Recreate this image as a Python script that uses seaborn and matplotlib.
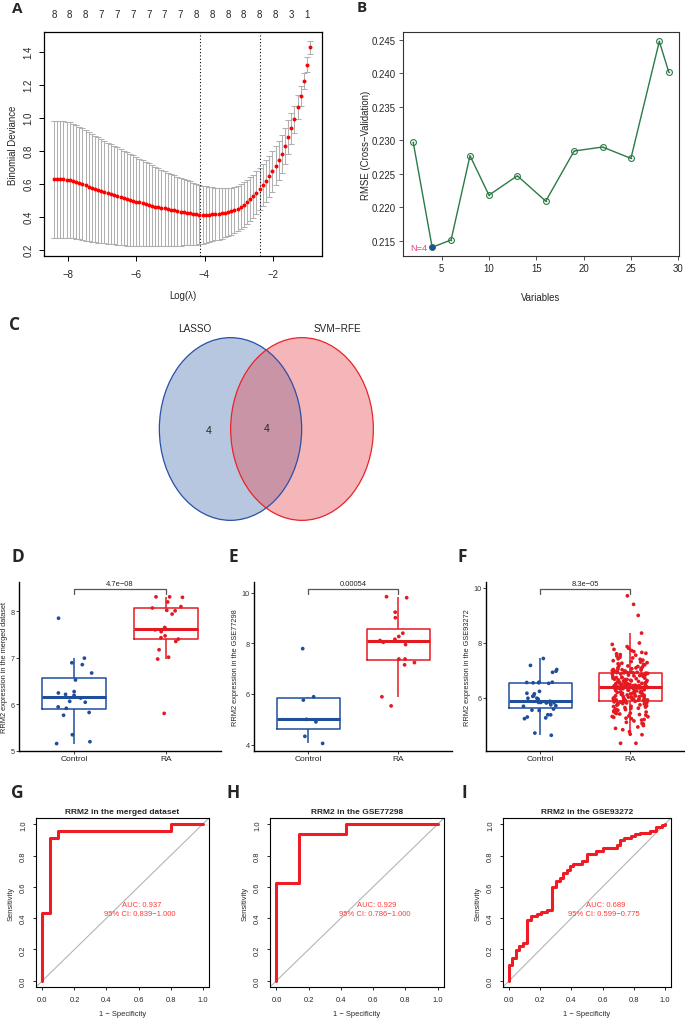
import numpy as np
import pandas as pd
import matplotlib
matplotlib.use('Agg')
import matplotlib.pyplot as plt
from matplotlib.patches import Ellipse
import seaborn as sns

# ---------------- A: LASSO cross validation ----------------
log_lambda = [-8.41, -8.32, -8.22, -8.13, -8.04, -7.95, -7.85, -7.76, -7.67, -7.58,
              -7.48, -7.39, -7.30, -7.20, -7.11, -7.02, -6.93, -6.83, -6.74, -6.65,
              -6.56, -6.46, -6.37, -6.28, -6.19, -6.09, -6.00, -5.91, -5.81, -5.72,
              -5.63, -5.54, -5.44, -5.35, -5.26, -5.17, -5.07, -4.98, -4.89, -4.80,
              -4.70, -4.61, -4.52, -4.42, -4.33, -4.24, -4.15, -4.05, -3.96, -3.87,
              -3.78, -3.68, -3.59, -3.50, -3.40, -3.31, -3.22, -3.13, -3.03, -2.94,
              -2.85, -2.76, -2.66, -2.57, -2.48, -2.39, -2.29, -2.20, -2.11, -2.01,
              -1.92, -1.83, -1.74, -1.64, -1.55, -1.46, -1.37, -1.27, -1.18, -1.09,
              -1.00, -0.90]
cv_mean = [0.628, 0.628, 0.628, 0.627, 0.625, 0.622, 0.617, 0.611, 0.604, 0.597,
           0.590, 0.583, 0.576, 0.569, 0.562, 0.556, 0.549, 0.543, 0.537, 0.531,
           0.525, 0.519, 0.513, 0.507, 0.502, 0.497, 0.492, 0.487, 0.482, 0.477,
           0.472, 0.467, 0.462, 0.458, 0.454, 0.450, 0.446, 0.442, 0.438, 0.434,
           0.430, 0.427, 0.424, 0.421, 0.418, 0.415, 0.413, 0.412, 0.412, 0.413,
           0.414, 0.416, 0.418, 0.421, 0.425, 0.428, 0.433, 0.440, 0.449, 0.460,
           0.474, 0.490, 0.507, 0.523, 0.545, 0.568, 0.592, 0.616, 0.644, 0.675,
           0.710, 0.742, 0.780, 0.830, 0.882, 0.935, 0.990, 1.065, 1.130, 1.222,
           1.322, 1.428]
cv_sd = [0.355, 0.355, 0.355, 0.354, 0.352, 0.350, 0.347, 0.344, 0.341, 0.338,
         0.335, 0.331, 0.327, 0.323, 0.319, 0.315, 0.311, 0.307, 0.303, 0.299,
         0.295, 0.291, 0.287, 0.283, 0.279, 0.275, 0.271, 0.266, 0.261, 0.256,
         0.251, 0.246, 0.241, 0.236, 0.231, 0.226, 0.221, 0.217, 0.213, 0.209,
         0.205, 0.201, 0.197, 0.193, 0.189, 0.185, 0.180, 0.176, 0.172, 0.168,
         0.164, 0.160, 0.156, 0.153, 0.150, 0.147, 0.144, 0.141, 0.138, 0.136,
         0.134, 0.133, 0.132, 0.131, 0.130, 0.130, 0.128, 0.126, 0.124, 0.122,
         0.120, 0.117, 0.113, 0.108, 0.102, 0.093, 0.083, 0.072, 0.060, 0.050,
         0.044, 0.040]
n_nonzero = ['8', '8', '8', '7', '7', '7', '7', '7', '7', '8', '8', '8', '8', '8', '8', '3', '1']
lambda_min = -4.14
lambda_1se = -2.38

# ---------------- B: SVM-RFE ----------------
rfe_vars = [2, 4, 6, 8, 10, 13, 16, 19, 22, 25, 28, 29]
rfe_rmse = [0.2297, 0.2140, 0.2151, 0.2277, 0.2218, 0.2247, 0.2209, 0.2284,
            0.2290, 0.2273, 0.2448, 0.2402]
rfe_best = 4

# ---------------- C: Venn ----------------
venn_names = ['LASSO', 'SVM−RFE']
venn_counts = [4, 4]   # LASSO only, shared

# ---------------- D-F: RRM2 expression ----------------
groups = ['Control', 'RA']
merged_ctrl = [7.85, 6.99, 6.89, 6.85, 6.67, 6.52, 6.27, 6.24, 6.21, 6.19,
               6.13, 6.04, 6.06, 5.94, 5.91, 5.82, 5.76, 5.34, 5.19, 5.15]
merged_ra = [8.31, 8.30, 8.31, 8.20, 8.10, 8.07, 8.02, 8.01, 7.94, 7.65, 7.60,
             7.62, 7.56, 7.47, 7.43, 7.40, 7.35, 7.17, 7.01, 6.97, 5.80]
gse77298_ctrl = [7.79, 5.89, 5.76, 5.00, 4.90, 4.33, 4.05]
gse77298_ra = [9.84, 9.80, 9.23, 9.01, 8.40, 8.27, 8.16, 8.11, 8.04, 7.95,
               7.38, 7.38, 7.24, 7.15, 5.89, 5.53]
gse93272_ctrl = [7.43, 7.18, 7.03, 6.97, 6.93, 6.57, 6.57, 6.56, 6.55, 6.55,
                 6.53, 6.24, 6.17, 6.15, 6.08, 6.06, 5.99, 5.99, 5.96, 5.88,
                 5.86, 5.84, 5.84, 5.83, 5.83, 5.82, 5.75, 5.72, 5.70, 5.60,
                 5.56, 5.55, 5.39, 5.39, 5.31, 5.28, 5.25, 4.73, 4.65]
gse93272_ra = [9.70, 9.39, 8.99, 8.35, 7.99, 7.94, 7.86, 7.80, 7.76, 7.72,
               7.68, 7.65, 7.62, 7.60, 7.57, 7.55, 7.52, 7.48, 7.45, 7.42,
               7.40, 7.37, 7.35, 7.32, 7.30, 7.28, 7.26, 7.24, 7.22, 7.20,
               7.18, 7.16, 7.14, 7.12, 7.10, 7.09, 7.07, 7.06, 7.05, 7.03,
               7.02, 7.01, 7.00, 6.99, 6.98, 6.97, 6.96, 6.95, 6.94, 6.93,
               6.92, 6.92, 6.91, 6.91, 6.90,
               6.89, 6.87, 6.86, 6.86, 6.84, 6.83, 6.81, 6.80, 6.80, 6.78,
               6.77, 6.75, 6.74, 6.74, 6.72, 6.71, 6.70, 6.68, 6.67, 6.67,
               6.65, 6.64, 6.62, 6.61, 6.60, 6.59, 6.58, 6.57, 6.56, 6.55,
               6.54, 6.53, 6.52, 6.51, 6.50, 6.49, 6.49, 6.48, 6.47, 6.46,
               6.46, 6.45, 6.44, 6.44, 6.43, 6.43, 6.42, 6.42, 6.42, 6.41,
               6.41, 6.41, 6.63, 6.58, 6.52,
               6.40, 6.39, 6.38, 6.38, 6.37, 6.36, 6.35, 6.34, 6.33, 6.33,
               6.31, 6.30, 6.29, 6.28, 6.27, 6.26, 6.25, 6.24, 6.22, 6.21,
               6.20, 6.19, 6.18, 6.17, 6.15, 6.14, 6.13, 6.12, 6.11, 6.10,
               6.09, 6.08, 6.07, 6.06, 6.05, 6.04, 6.03, 6.02, 6.01, 6.00,
               5.99, 5.98, 5.97, 5.96, 5.95, 5.95, 5.94, 5.93, 5.93, 5.92,
               5.92, 5.91, 5.91, 5.91, 5.90,
               5.89, 5.88, 5.87, 5.86, 5.85, 5.84, 5.82, 5.81, 5.80, 5.78,
               5.77, 5.75, 5.74, 5.72, 5.70, 5.69, 5.67, 5.65, 5.63, 5.62,
               5.60, 5.58, 5.56, 5.55, 5.53, 5.51, 5.49, 5.47, 5.45, 5.44,
               5.42, 5.40, 5.38, 5.35, 5.33, 5.32, 5.30, 5.27, 5.25, 5.22,
               5.20, 5.17, 5.12, 5.08, 5.06, 5.00, 4.95, 4.90, 4.85, 4.78,
               4.69, 4.67, 4.36, 4.36, 5.58]
p_values = ['4.7e−08', '0.00054', '8.3e−05']

# ---------------- G-I: ROC (x where sensitivity jumps, level after jump) ----------------
roc_merged_fpr = [0.0, 0.05, 0.10, 0.80]
roc_merged_tpr = [0.435, 0.913, 0.957, 1.0]
roc_77298_fpr = [0.0, 0.143, 0.429]
roc_77298_tpr = [0.625, 0.9375, 1.0]
roc_93272_fpr = [0.0, 0.019, 0.041, 0.064, 0.090, 0.116, 0.139, 0.180, 0.203, 0.240,
                 0.272, 0.300, 0.325, 0.347, 0.373, 0.392, 0.413, 0.465, 0.503, 0.561,
                 0.602, 0.690, 0.715, 0.741, 0.786, 0.809, 0.839, 0.904, 0.946, 0.979, 1.0]
roc_93272_tpr = [0.100, 0.143, 0.197, 0.224, 0.241, 0.391, 0.415, 0.425, 0.438, 0.449,
                 0.598, 0.639, 0.656, 0.688, 0.707, 0.733, 0.744, 0.767, 0.812, 0.829,
                 0.846, 0.870, 0.900, 0.910, 0.923, 0.940, 0.947, 0.955, 0.981, 0.994, 1.0]
roc_titles = ['RRM2 in the merged dataset', 'RRM2 in the GSE77298', 'RRM2 in the GSE93272']
roc_auc = ['AUC: 0.937', 'AUC: 0.929', 'AUC: 0.689']
roc_ci = ['95% CI: 0.839−1.000', '95% CI: 0.786−1.000', '95% CI: 0.599−0.775']

# ---------------- style ----------------
W, H = 685, 1020
BLUE = '#1F4E9D'
RED = '#E41A22'
GREEN = '#2B7A47'
palette = {'Control': BLUE, 'RA': RED}

sns.set_style('ticks')
plt.rcParams['font.family'] = ['Liberation Sans', 'DejaVu Sans']
plt.rcParams['axes.unicode_minus'] = True
np.random.seed(7)

fig = plt.figure(figsize=(W / 100, H / 100), dpi=100)


def add_ax(left, top, right, bottom):
    return fig.add_axes([left / W, 1 - bottom / H, (right - left) / W, (bottom - top) / H])


def letter(x, y, s, size=12.5):
    fig.text(x / W, 1 - y / H, s, fontsize=size, fontweight='bold',
             family='Open Sans', ha='center', va='center')


def r_box(ax, lw=0.9):
    for sp in ax.spines.values():
        sp.set_visible(True)
        sp.set_color('black')
        sp.set_linewidth(lw)


# ---------------- panel A ----------------
ax = add_ax(44, 33, 322, 257)
ax.errorbar(log_lambda, cv_mean, yerr=cv_sd, fmt='none', ecolor='#b0b0b0',
            elinewidth=0.75, capsize=1.9, capthick=0.75, zorder=1)
sns.scatterplot(x=log_lambda, y=cv_mean, color='#FF0000', s=8, linewidth=0, ax=ax, zorder=3)
ax.axvline(lambda_min, color='black', ls=(0, (1, 2)), lw=0.8)
ax.axvline(lambda_1se, color='black', ls=(0, (1, 2)), lw=0.8)
ax.set_xlim(-8.70, -0.56)
ax.set_ylim(0.162, 1.52)
ax.set_xticks([-8, -6, -4, -2])
ax.set_yticks([0.2, 0.4, 0.6, 0.8, 1.0, 1.2, 1.4])
ax.set_yticklabels(['0.2', '0.4', '0.6', '0.8', '1.0', '1.2', '1.4'], rotation=90, va='center')
ax.tick_params(labelsize=6.9, length=3.6, width=0.7, color='black', pad=4)
ax.tick_params(axis='x', pad=6)
ax.set_xlabel('Log(λ)', fontsize=6.9, labelpad=8)
ax.set_ylabel('Binomial Deviance', fontsize=6.9, labelpad=4)
r_box(ax)
for pos, lab in zip(log_lambda[::5], n_nonzero):
    ax.text(pos, 1 + 18 / 224, lab, transform=ax.get_xaxis_transform(),
            ha='center', va='center', fontsize=7)
letter(17, 9, 'A', 11)

# ---------------- panel B ----------------
ax = add_ax(403, 33, 679, 257)
sns.lineplot(x=rfe_vars, y=rfe_rmse, color=GREEN, linewidth=1.0, marker='o',
             markersize=4.2, markerfacecolor='none', markeredgecolor=GREEN,
             markeredgewidth=0.8, ax=ax)
sns.scatterplot(x=rfe_vars, y=rfe_rmse, color=GREEN, s=1.2, linewidth=0, ax=ax)
best_i = rfe_vars.index(rfe_best)
sns.scatterplot(x=[rfe_best], y=[rfe_rmse[best_i]], color=BLUE, s=16, linewidth=0, ax=ax, zorder=4)
ax.text(rfe_best - 0.55, rfe_rmse[best_i], f'N={rfe_best}', ha='right', va='center',
        fontsize=6.7, color='#E8457A')
ax.set_xlim(0.92, 30.08)
ax.set_ylim(0.2127, 0.2462)
ax.set_xticks([5, 10, 15, 20, 25, 30])
ax.set_yticks([0.215, 0.220, 0.225, 0.230, 0.235, 0.240, 0.245])
ax.set_yticklabels(['0.215', '0.220', '0.225', '0.230', '0.235', '0.240', '0.245'])
ax.tick_params(labelsize=6.9, length=3, width=0.6, color='#333333', pad=2)
ax.set_xlabel('Variables', fontsize=6.9, labelpad=14)
ax.set_ylabel('RMSE (Cross−Validation)', fontsize=6.9, labelpad=1)
r_box(ax, 0.8)
for sp in ax.spines.values():
    sp.set_color('#333333')
letter(362, 8, 'B', 11)

# ---------------- panel C ----------------
ax = fig.add_axes([0, 1 - 530 / H, 1, 230 / H])
ax.set_xlim(0, W)
ax.set_ylim(530, 300)
ax.axis('off')
ax.add_patch(Ellipse((230.5, 430), 142.3, 182.7, facecolor='#B8C7E0', edgecolor='none'))
ax.add_patch(Ellipse((302, 430), 142.7, 182.7, facecolor=(228 / 255, 73 / 255, 78 / 255),
                     alpha=0.4, edgecolor='none'))
ax.add_patch(Ellipse((230.5, 430), 142.3, 182.7, fill=False, edgecolor='#2A4FA8', lw=0.9))
ax.add_patch(Ellipse((302, 430), 142.7, 182.7, fill=False, edgecolor='#E8232A', lw=0.9))
ax.text(195, 329, venn_names[0], ha='center', va='center', fontsize=7.2)
ax.text(337, 329, venn_names[1], ha='center', va='center', fontsize=7.2)
ax.text(209, 431, str(venn_counts[0]), ha='center', va='center', fontsize=7.5)
ax.text(267, 429, str(venn_counts[1]), ha='center', va='center', fontsize=7.5)
letter(15, 325, 'C')


# ---------------- panels D-F ----------------
def expr_panel(rect, ctrl, ra, ylim, yticks, ylabel, pval, bracket_y, tip_y):
    ax = add_ax(*rect)
    df = pd.DataFrame({'group': ['Control'] * len(ctrl) + ['RA'] * len(ra),
                       'value': ctrl + ra})
    sns.boxplot(data=df, x='group', y='value', hue='group', order=groups, hue_order=groups,
                palette=palette, fill=False, width=0.7, showfliers=False, showcaps=False,
                linewidth=1.1, medianprops={'linewidth': 2.2}, legend=False, ax=ax)
    sns.stripplot(data=df, x='group', y='value', hue='group', order=groups, hue_order=groups,
                  palette=palette, jitter=0.2, size=2.7, linewidth=0, legend=False,
                  ax=ax, zorder=3)
    ax.plot([0, 0, 1, 1], [tip_y, bracket_y, bracket_y, tip_y], color='#555555', lw=0.9)
    ax.text(0.5, bracket_y + (ylim[1] - ylim[0]) * 0.012, pval, ha='center', va='bottom',
            fontsize=5.4, color='#222222')
    ax.set_xlim(-0.6, 1.6)
    ax.set_ylim(*ylim)
    ax.set_yticks(yticks)
    ax.set_yticklabels([str(t) for t in yticks])
    ax.set_xlabel('')
    ax.set_ylabel(ylabel, fontsize=5.3, labelpad=2)
    ax.tick_params(axis='y', labelsize=5.2, length=2, width=0.6, pad=1, labelcolor='#333333')
    ax.tick_params(axis='x', labelsize=6, length=2, width=0.6, pad=1, labelcolor='#222222')
    sns.despine(ax=ax)
    for sp in ('left', 'bottom'):
        ax.spines[sp].set_linewidth(1.0)
        ax.spines[sp].set_color('black')
    return ax


expr_panel((19, 583, 221, 752), merged_ctrl, merged_ra, (4.99, 8.63), [5, 6, 7, 8],
           'RRM2 expression in the merged dataset', p_values[0], 8.47, 8.37)
expr_panel((254, 583, 452, 752), gse77298_ctrl, gse77298_ra, (3.75, 10.42), [4, 6, 8, 10],
           'RRM2 expression in the GSE77298', p_values[1], 10.13, 9.96)
expr_panel((486, 583, 684, 752), gse93272_ctrl, gse93272_ra, (4.08, 10.2), [6, 8, 10],
           'RRM2 expression in the GSE93272', p_values[2], 9.94, 9.78)
letter(18, 557, 'D')
letter(233, 557, 'E')
letter(462, 557, 'F')


# ---------------- panels G-I ----------------
def roc_panel(rect, fpr_steps, tpr_steps, title, auc_txt, ci_txt):
    ax = add_ax(*rect)
    fpr, tpr = [0.0], [0.0]
    for f, t in zip(fpr_steps, tpr_steps):
        fpr += [f, f]
        tpr += [tpr[-1], t]
    fpr.append(1.0)
    tpr.append(tpr[-1])
    ax.axline((0, 0), (1, 1), color='#b5b5b5', lw=0.8, zorder=1)
    sns.lineplot(x=fpr, y=tpr, sort=False, estimator=None, color='#EE1C25',
                 linewidth=2.2, ax=ax, zorder=3)
    ax.text(0.62, 0.485, auc_txt, ha='center', va='center', fontsize=5.5, color='#FF3B3B')
    ax.text(0.61, 0.43, ci_txt, ha='center', va='center', fontsize=5.5, color='#FF3B3B')
    ax.set_xlim(-0.04, 1.04)
    ax.set_ylim(-0.04, 1.04)
    ticks = [0.0, 0.2, 0.4, 0.6, 0.8, 1.0]
    labels = ['0.0', '0.2', '0.4', '0.6', '0.8', '1.0']
    ax.set_xticks(ticks)
    ax.set_xticklabels(labels)
    ax.set_yticks(ticks)
    ax.set_yticklabels(labels, rotation=90, va='center')
    ax.tick_params(labelsize=5.4, length=2.4, width=0.6, color='black', pad=4)
    ax.set_title(title, fontsize=6, fontweight='bold', pad=3.5)
    ax.set_xlabel('1 − Specificity', fontsize=5.4, labelpad=5)
    ax.set_ylabel('Sensitivity', fontsize=5.4, labelpad=4)
    r_box(ax, 0.8)
    return ax


roc_panel((36, 819, 209, 988), roc_merged_fpr, roc_merged_tpr, roc_titles[0], roc_auc[0], roc_ci[0])
roc_panel((270, 819, 444, 988), roc_77298_fpr, roc_77298_tpr, roc_titles[1], roc_auc[1], roc_ci[1])
roc_panel((503, 819, 671, 988), roc_93272_fpr, roc_93272_tpr, roc_titles[2], roc_auc[2], roc_ci[2])
letter(17, 793, 'G')
letter(233, 793, 'H')
letter(464, 793, 'I')

fig.savefig('out.png', dpi=100, facecolor='white')
